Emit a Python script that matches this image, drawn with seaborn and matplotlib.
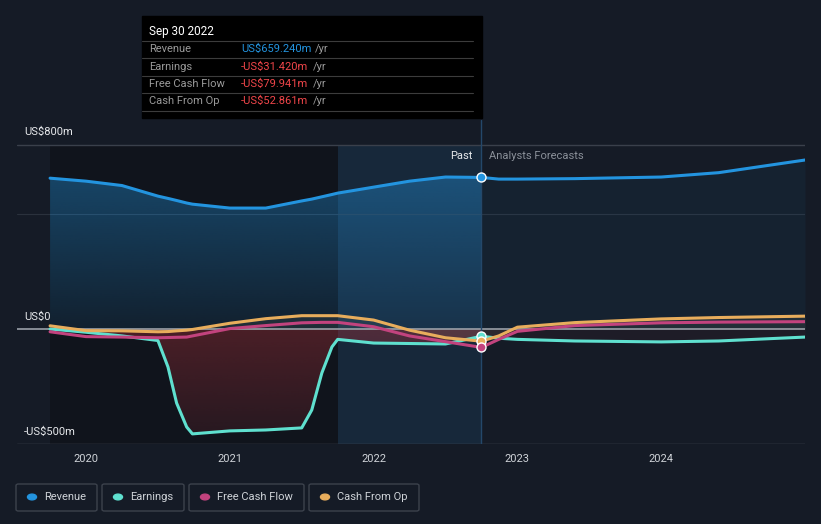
import numpy as np
import pandas as pd
import seaborn as sns
import matplotlib.pyplot as plt
from matplotlib.patches import FancyBboxPatch, Rectangle, Circle
from matplotlib.lines import Line2D
from matplotlib.colors import LinearSegmentedColormap, to_rgb

# ---------------- data ----------------
years = [2019.75, 2020.0, 2020.25, 2020.5, 2020.57, 2020.63, 2020.7, 2020.74,
         2021.0, 2021.25, 2021.5, 2021.57, 2021.64, 2021.71, 2021.75,
         2022.0, 2022.25, 2022.5, 2022.75, 2022.87, 2023.0, 2023.4,
         2024.0, 2024.4, 2025.0]
revenue = [656, 643, 624, 578, 568, 559, 548, 543,
           526, 526, 557, 565, 575, 585, 591,
           617, 643, 661, 659.24, 652, 652, 654,
           661, 680, 735]
earnings = [0, -14, -30, -50, -165, -322, -426, -456,
            -443, -439, -430, -352, -191, -78, -45,
            -61, -63, -65, -31.42, -40, -45, -52,
            -56, -52, -35]
fcf = [-12, -33, -35, -38, -37, -36, -35, -30,
       2, 15, 27, 28, 29, 29, 29,
       10, -30, -55, -79.941, -45, -10, 15,
       27, 30, 32]
cfo = [14, -7, -8, -12, -11, -8, -5, -2,
       25, 45, 58, 58, 58, 58, 58,
       39, -5, -38, -52.861, -30, 8, 28,
       44, 50, 56]
series_names = ["Revenue", "Earnings", "Free Cash Flow", "Cash From Op"]
colors = ["#2394df", "#5fe0cf", "#c2437e", "#e8ad5c"]
xticks = [2020, 2021, 2022, 2023, 2024]
now = 2022.75
tooltip_date = "Sep 30 2022"
tooltip_vals = ["US$659.240m", "-US$31.420m", "-US$79.941m", "-US$52.861m"]

df = pd.DataFrame({"year": years * 4,
                   "value": revenue + earnings + fcf + cfo,
                   "series": sum([[n] * len(years) for n in series_names], [])})

# ---------------- style ----------------
sns.set_theme(style="dark")
plt.rcParams['font.family'] = ['Roboto', 'DejaVu Sans']
BG = "#151b26"

W, H = 821, 524
fig = plt.figure(figsize=(W / 100, H / 100), dpi=100, facecolor=BG)
ax = fig.add_axes([17 / W, (H - 444) / H, (805 - 17) / W, (444 - 120) / H])
ax.set_facecolor(BG)
XL, YL = (2019.52, 2025.0), (-500, 909)

yr = np.array(years)
past = yr <= now + 1e-9
fut = yr >= now - 1e-9


def gradient_fill(x, y, base, color, a_top, a_bot, ytop, ybot, z):
    poly = ax.fill_between(x, y, base, facecolor="none", lw=0)
    cmap = LinearSegmentedColormap.from_list(
        "g", [(*to_rgb(color), a_bot), (*to_rgb(color), a_top)])
    grad = np.linspace(0, 1, 256).reshape(-1, 1)
    im = ax.imshow(grad, extent=[min(x), max(x), ybot, ytop], origin="lower",
                   aspect="auto", cmap=cmap, zorder=z, interpolation="bicubic")
    im.set_clip_path(poly.get_paths()[0], transform=ax.transData)


# background bands
ax.fill_between([2019.75, 2021.75], -500, 800, color="#10141c", lw=0, zorder=0)
ax.fill_between([2021.75, now], -500, 800, color="#17283a", lw=0, zorder=0)

# grid lines
ax.axhline(800, color="#3a404b", lw=1, zorder=1)
ax.axhline(500, color="#2a313c", lw=0.8, zorder=1)
ax.axhline(-500, color="#4a505a", lw=1, zorder=1)

# fills
rv = np.array(revenue)
gradient_fill(yr[past], rv[past], 0, "#2394df", 0.40, 0.10, 700, 0, 2)
ax.fill_between(yr[fut], rv[fut], 0, color="#2394df", alpha=0.06, lw=0, zorder=2)
ea = np.array(earnings)
gradient_fill(yr[past], np.minimum(ea[past], 0), 0, "#b8343c", 0.35, 0.14, 0, -460, 2)
ax.fill_between(yr[fut], ea[fut], 0, color="#b8343c", alpha=0.06, lw=0, zorder=2)
cf = np.array(cfo)
ax.fill_between(yr, cf, 0, color="#8a8a70", alpha=0.12, lw=0, zorder=2)

ax.axhline(0, color="#9aa0a8", lw=1.2, zorder=3)
ax.axvline(now, color="#24486a", lw=1, zorder=3)

sns.lineplot(data=df, x="year", y="value", hue="series", hue_order=series_names,
             palette=colors, lw=2.2, ax=ax, legend=False, zorder=4)

for vals, c in zip([revenue, earnings, cfo, fcf],
                   [colors[0], colors[1], colors[3], colors[2]]):
    ax.scatter([now], [vals[years.index(now)]], s=42, color=c,
               edgecolor="white", linewidth=1, zorder=6)

ax.set_xlim(*XL)
ax.set_ylim(*YL)

# axes styling
for s in ax.spines.values():
    s.set_visible(False)
ax.set_xticks(xticks)
ax.set_xticklabels([str(t) for t in xticks], color="#cfd3d8", fontsize=8)
ax.tick_params(axis="x", length=3, color="#4a505a", pad=4)
ax.set_yticks([])
ax.set_xlabel("")
ax.set_ylabel("")
ax.grid(False)

# y labels
ax.text(2019.57, 856, "US$800m", color="#e6e8eb", fontsize=8, va="center")
ax.text(2019.57, 52, "US$0", color="#e6e8eb", fontsize=8, va="center")
ax.text(2019.57, -448, "-US$500m", color="#e6e8eb", fontsize=8, va="center")
ax.text(2022.687, 752, "Past", color="#e6e8eb", fontsize=8, ha="right", va="center")
ax.text(2022.80, 752, "Analysts Forecasts", color="#8a9099", fontsize=8,
        ha="left", va="center")


def fx(px):
    return px / W


def fy(py):
    return 1 - py / H


# tooltip
fig.patches.append(Rectangle((fx(142), fy(118)), 340 / W, 102 / H,
                             transform=fig.transFigure, color="#000000", zorder=10))
fig.text(fx(149), fy(31), tooltip_date, color="white", fontsize=8.5,
         va="center", zorder=11)
for sy in [41, 58, 76, 93, 111]:
    fig.lines.append(Line2D([fx(142), fx(473)], [fy(sy), fy(sy)],
                            transform=fig.transFigure, color="#3c3c3c", lw=0.8,
                            zorder=11))
row_y = [49, 67, 84, 101]
for i, (name, val) in enumerate(zip(series_names, tooltip_vals)):
    fig.text(fx(149), fy(row_y[i]), name, color="#9a9a9a", fontsize=8,
             va="center", zorder=11)
    vc = "#2394df" if i == 0 else "#f0464a"
    fig.text(fx(241), fy(row_y[i]), val, color=vc, fontsize=8,
             va="center", zorder=11)
    fig.text(fx(315 if i == 0 else 313), fy(row_y[i]), "/yr", color="#9a9a9a",
             fontsize=8, va="center", zorder=11)

# legend
boxes = [(16, 97), (102, 184), (189, 304), (309, 419)]
dots = [32, 118, 205, 325]
labs = [44, 130, 217, 337]
for (x0, x1), dx, lx, name, c in zip(boxes, dots, labs, series_names, colors):
    fig.patches.append(FancyBboxPatch((fx(x0), fy(511)), (x1 - x0) / W, 27 / H,
                                      boxstyle="round,pad=0,rounding_size=0.003",
                                      transform=fig.transFigure, facecolor="none",
                                      edgecolor="#3c424c", lw=1))
    fig.patches.append(Circle((fx(dx), fy(497)), 4.5 / W, transform=fig.transFigure,
                              color=c))
    fig.text(fx(lx), fy(497), name, color="#cfd3d8", fontsize=8, va="center")

fig.savefig("out.png", dpi=100, facecolor=BG)
